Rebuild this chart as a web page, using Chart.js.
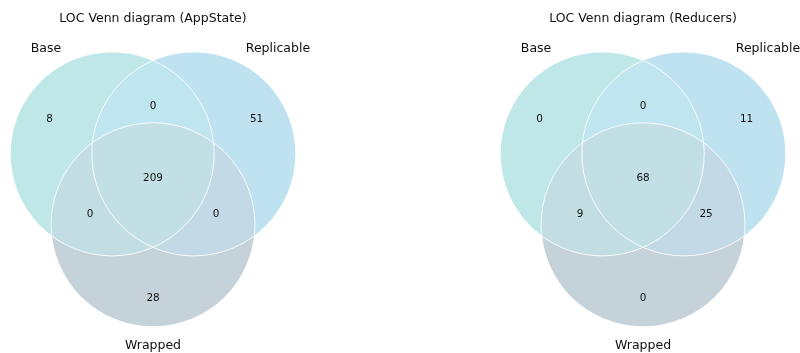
<!DOCTYPE html>
<html>
<head>
<meta charset="utf-8">
<script src="https://cdn.jsdelivr.net/npm/chart.js@4/dist/chart.umd.min.js"></script>
<style>
  html, body { margin: 0; padding: 0; background: #ffffff; }
  #wrap { width: 800px; height: 353px; position: relative; }
</style>
</head>
<body>
<div id="wrap"><canvas id="venn"></canvas></div>
<script>
// Lines of code per subset, in the order: Base only, Replicable only,
// Base & Replicable, Wrapped only, Base & Wrapped, Replicable & Wrapped, all three.
const setNames = ['Base', 'Replicable', 'Wrapped'];
const subsetKeys = ['100', '010', '110', '001', '101', '011', '111'];
const appStateLoc = [8, 51, 0, 28, 0, 0, 209];
const reducersLoc = [0, 11, 0, 0, 9, 25, 68];
const diagramTitles = ['LOC Venn diagram (AppState)', 'LOC Venn diagram (Reducers)'];
const diagramCounts = [appStateLoc, reducersLoc];

// Unweighted three-circle layout (unit circle radius, centres on a triangle)
const RADIUS = 1;
const circleCentres = [[-0.4, 0.233], [0.4, 0.233], [0, -0.462]];
const diagramOffsets = [0, 4.804];
const subsetLabelPos = {
  '100': [-1.015, 0.585], '010': [1.015, 0.585], '110': [0, 0.714],
  '001': [0, -1.17], '101': [-0.618, -0.35], '011': [0.618, -0.35], '111': [0, 0]
};
const setLabelPos = [[-1.049, 1.274], [1.225, 1.274], [0, -1.64]];
const titlePos = [0, 1.566];

// Region colours (single sets, pairs, and the triple overlap)
const setColours = ['#bfe7e8', '#bfe2f1', '#c5d2da'];
const pairColours = { '110': '#bfe5ee', '101': '#c3dee2', '011': '#c4d9e6' };
const tripleColour = '#c3dfe6';

const circlePoints = [];
const circleFills = [];
diagramOffsets.forEach(off => {
  circleCentres.forEach((c, i) => {
    circlePoints.push({ x: off + c[0], y: c[1] });
    circleFills.push(setColours[i]);
  });
});

const unitRadius = ctx => {
  const sx = ctx.chart.scales.x;
  return Math.abs(sx.getPixelForValue(RADIUS) - sx.getPixelForValue(0));
};

// Repaints the overlap regions of each diagram, clipped to the circles
const overlapTint = {
  id: 'overlapTint',
  afterDatasetDraw(chart, args) {
    if (args.index !== 0) return;
    const ctx = chart.ctx;
    const els = args.meta.data;
    for (let d = 0; d < diagramOffsets.length; d++) {
      const c = els.slice(d * 3, d * 3 + 3).map(e => ({ x: e.x, y: e.y, r: e.options.radius }));
      const paint = (idx, colour) => {
        ctx.save();
        idx.forEach(i => {
          ctx.beginPath();
          ctx.arc(c[i].x, c[i].y, c[i].r, 0, Math.PI * 2);
          ctx.clip();
        });
        ctx.fillStyle = colour;
        ctx.fillRect(0, 0, chart.width, chart.height);
        ctx.restore();
      };
      paint([0, 1], pairColours['110']);
      paint([0, 2], pairColours['101']);
      paint([1, 2], pairColours['011']);
      paint([0, 1, 2], tripleColour);
    }
  }
};

// Titles, set names and subset counts
const vennText = {
  id: 'vennText',
  afterDraw(chart) {
    const ctx = chart.ctx;
    const sx = chart.scales.x, sy = chart.scales.y;
    const at = (x, y) => [sx.getPixelForValue(x), sy.getPixelForValue(y) + 1];
    ctx.save();
    ctx.textAlign = 'center';
    ctx.textBaseline = 'middle';
    ctx.fillStyle = '#111111';
    diagramOffsets.forEach((off, d) => {
      ctx.font = '12.5px "DejaVu Sans"';
      let p = at(off + titlePos[0], titlePos[1]);
      ctx.fillText(diagramTitles[d], p[0], p[1]);
      setNames.forEach((name, i) => {
        p = at(off + setLabelPos[i][0], setLabelPos[i][1]);
        ctx.fillText(name, p[0], p[1]);
      });
      ctx.font = '10.4px "DejaVu Sans"';
      subsetKeys.forEach((k, i) => {
        p = at(off + subsetLabelPos[k][0], subsetLabelPos[k][1]);
        ctx.fillText(String(diagramCounts[d][i]), p[0], p[1]);
      });
    });
    ctx.restore();
  }
};

new Chart(document.getElementById('venn'), {
  type: 'scatter',
  data: {
    datasets: [
      {
        label: 'fills',
        data: circlePoints,
        order: 2,
        pointRadius: unitRadius,
        pointBackgroundColor: circleFills,
        pointBorderWidth: 0,
        pointBorderColor: 'rgba(0,0,0,0)',
        clip: false
      },
      {
        label: 'outlines',
        data: circlePoints,
        order: 1,
        pointRadius: unitRadius,
        pointBackgroundColor: 'rgba(0,0,0,0)',
        pointBorderColor: 'rgba(255,255,255,0.85)',
        pointBorderWidth: 1,
        clip: false
      }
    ]
  },
  options: {
    responsive: true,
    maintainAspectRatio: false,
    animation: false,
    events: [],
    layout: { padding: 0 },
    scales: {
      x: { type: 'linear', min: -1.5, max: 6.343, display: false },
      y: { type: 'linear', min: -1.719, max: 1.742, display: false }
    },
    plugins: {
      legend: { display: false },
      tooltip: { enabled: false },
      title: { display: false }
    }
  },
  plugins: [overlapTint, vennText]
});
</script>
</body>
</html>
